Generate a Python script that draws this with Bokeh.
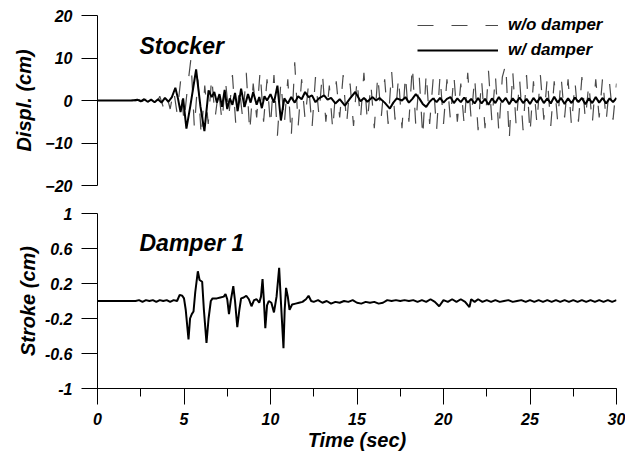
from bokeh.plotting import figure
from bokeh.layouts import column
from bokeh.models import (Range1d, FixedTicker, SingleIntervalTicker, Legend, LegendItem,
                          Label, CustomJSTickFormatter)
from bokeh.embed import file_html
from bokeh.resources import INLINE

# ---------------- data ----------------
# Stocker displacement without damper (cm), sampled every 0.2 s from 0 to 30 s
wo_step = 0.2
wo_disp = [0, 0, 0, 0, 0, 0, 0, 0, 0, 0, 0.1, -0.1, 0.2, -0.2, 0.3, -0.3, 0.4,
           -0.8, 1.0, -1.5, 1.2, -2.0, 2.5, -3.0, 4.5, -5.0, 3.0, 9.8, -6.5, 5.0,
           -8.6, 3.5, -5.5, 5.5, -4.0, 2.5, -5.0, 4.5, -3.5, 6.0, -6.0, 3.0, -4.5,
           6.5, -7.5, 4.0, -4.0, 7.0, -5.0, 5.0, -6.0, 6.0, -8.3, 4.5, -5.5, 5.0,
           -8.6, 9.0, -6.0, 5.0, -4.5, 4.0, -6.5, 5.5, -3.5, 6.5, -5.0, 3.5, -7.0,
           4.5, -4.0, 6.0, -5.5, 4.0, -6.0, 5.0, -4.5, 6.5, -5.0, 4.0, -6.5, 6.0,
           -4.0, 5.0, -5.5, 7.0, -4.5, 5.5, -6.5, 6.0, -5.0, 8.2, -6.0, 5.5, -8.6,
           6.5, -5.5, 5.0, -7.0, 6.0, -5.5, 5.0, -4.5, 6.0, -5.0, 4.0, -6.0, 6.5,
           -4.5, 5.5, -7.0, 5.0, -6.5, 7.0, -5.0, 6.0, -7.5, 5.5, 8.6, -9.4, 7.0,
           -6.0, 5.0, -7.0, 6.0, -7.8, 4.5, -5.5, 6.0, -4.5, 5.5, -6.0, 4.5, -5.0,
           5.5, -4.0, 5.0, -6.0, 4.5, -5.0, 5.5, -4.5, 4.0, -5.5, 5.0, -4.0, 5.5,
           -5.0, 4.0, -4.5, 4.0]
wo_time = [round(i * wo_step, 2) for i in range(len(wo_disp))]

# Stocker displacement with damper (cm)
w_time = [0, 2.0, 2.3, 2.5, 2.7, 2.9, 3.1, 3.3, 3.5, 3.7, 3.9, 4.1, 4.3, 4.5, 4.65,
          4.8, 4.95, 5.14, 5.37, 5.7, 5.95, 6.18, 6.42, 6.6, 6.75, 6.9, 7.05, 7.2,
          7.35, 7.5, 7.65, 7.8, 7.95, 8.1, 8.3, 8.5, 8.7, 8.85, 9.0, 9.2, 9.35, 9.5,
          9.65, 9.8, 10.0, 10.2, 10.4, 10.6, 10.8, 11.0, 11.2, 11.4, 11.6, 11.8,
          12.0, 12.2, 12.4, 12.6, 12.8, 13.1, 13.3, 13.5, 13.75, 14.0, 14.3, 14.6,
          14.9, 15.2, 15.4, 15.6, 15.9, 16.1, 16.3, 16.6, 16.9, 17.1, 17.3, 17.6,
          17.8, 18.0, 18.2, 18.4, 18.6, 18.8, 19.0, 19.2, 19.4, 19.6, 19.8, 20.0,
          20.2, 20.4, 20.6, 20.8, 21.0, 21.2, 21.4, 21.6, 21.8, 22.0, 22.2, 22.4,
          22.6, 22.8, 23.0, 23.2, 23.4, 23.6, 23.8, 24.0, 24.2, 24.4, 24.6, 24.8,
          25.0, 25.2, 25.4, 25.6, 25.8, 26.0, 26.2, 26.4, 26.6, 26.8, 27.0, 27.2,
          27.4, 27.6, 27.8, 28.0, 28.2, 28.4, 28.6, 28.8, 29.0, 29.2, 29.4, 29.6,
          29.8, 30.0]
w_disp = [0, 0, 0.2, -0.2, 0.3, -0.3, 0.2, -0.4, 0.3, -0.5, 0.6, -0.3, 0.8, 3.0, 0.5,
          -2.7, 0.5, -6.6, -1.2, 7.3, -1.4, -7.2, 2.4, 0.8, 2.0, -0.5, 1.5, -1.5,
          2.5, -2.0, 0.5, -1.0, 1.8, -2.5, 2.8, -1.5, 1.5, -0.5, 2.0, -1.0, 0.8, -1.8,
          1.0, 0.0, 1.5, -0.5, 3.5, -4.7, 0.5, -0.7, 0.8, -0.5, 1.0, 0.3,
          2.0, 0.8, 1.2, -0.4, 0.5, 1.2, 0.2, 0.6, -0.7, 0.3, -1.2, 0.5,
          2.0, -0.2, 0.6, -0.3, 0.8, 0.0, 0.6, -0.5, -1.9, -0.5, 0.5, 0.0,
          0.8, -0.5, 0.4, 1.5, 0.5, -0.8, -1.5, -0.3, 0.5, -0.4, 0.6, -0.5,
          0.4, 0.8, -0.6, 0.5, -0.4, 0.7, -0.5, 0.4, -0.7, 0.6, -0.7, 0.4,
          -1.0, 0.5, -0.6, 0.8, -0.4, 0.6, -0.9, 0.5, -0.5, 0.7, -0.6, 0.4,
          -0.8, 0.6, -0.5, 0.8, -0.6, 0.5, -0.7, 0.9, -0.5, 0.6, -0.8, 0.5,
          -0.6, 0.7, -0.4, 0.6, -0.9, 0.5, -0.6, 0.8, -0.5, 0.6, -0.7, 0.5,
          -0.4, 0.6]

# Damper 1 stroke (cm)
s_time = [0, 2.2, 2.4, 2.6, 2.8, 3.0, 3.2, 3.4, 3.6, 3.8, 4.0, 4.2, 4.4, 4.6, 4.75,
          4.9, 5.0, 5.1, 5.26, 5.35, 5.45, 5.55, 5.65, 5.8, 5.9, 6.05, 6.15, 6.3,
          6.42, 6.55, 6.65, 6.9, 7.1, 7.3, 7.4, 7.5, 7.6, 7.7, 7.85, 7.95, 8.08,
          8.2, 8.3, 8.45, 8.6, 8.75, 8.9, 9.05, 9.2, 9.35, 9.45, 9.54, 9.62, 9.7,
          9.8, 9.9, 10.05, 10.2, 10.35, 10.5, 10.6, 10.75, 10.82, 10.9, 11.0, 11.1,
          11.25, 11.45, 11.65, 11.85, 12.05, 12.2, 12.35, 12.5, 12.75, 13.0, 13.25,
          13.5, 13.75, 14.0, 14.25, 14.5, 14.75, 15.0, 15.25, 15.5, 15.75, 16.0,
          16.25, 16.5, 16.75, 17.0, 17.25, 17.5, 17.75, 18.0, 18.25, 18.5, 18.75,
          19.0, 19.25, 19.5, 19.75, 20.0, 20.25, 20.5, 20.75, 21.0, 21.25, 21.5,
          21.6, 21.8, 22.0, 22.25, 22.5, 22.75, 23.0, 23.25, 23.5, 23.75, 24.0,
          24.25, 24.5, 24.75, 25.0, 25.25, 25.5, 25.75, 26.0, 26.25, 26.5, 26.75,
          27.0, 27.25, 27.5, 27.75, 28.0, 28.25, 28.5, 28.75, 29.0, 29.25, 29.5,
          29.75, 30.0]
s_stroke = [0, 0, 0.01, -0.01, 0.01, 0, 0.01, -0.01, 0.01, 0, 0.01, -0.01, 0.01, 0.0,
            0.07, 0.06, 0.03, -0.1, -0.44, -0.2, -0.15, -0.12, 0.1, 0.34, 0.24, 0.22,
            -0.1, -0.48, -0.2, 0.0, 0.03, 0.03, 0.04, 0.05, 0.08, 0.02, -0.15, 0.0,
            0.17, 0.0, -0.3, -0.1, 0.03, 0.04, 0.06, 0.02, -0.06, 0.01, 0.02, -0.02,
            0.05, 0.25, 0.0, -0.31, -0.05, 0.0, -0.02, -0.13, 0.05, 0.38, 0.0, -0.54,
            -0.1, 0.15, 0.05, -0.1, -0.04, -0.03, -0.02, -0.01, 0.02, 0.06, 0.0,
            -0.01, 0.01, -0.02, 0.0, -0.03, -0.01, -0.02, 0.0, -0.01, 0.01, -0.02,
            -0.03, -0.01, -0.02, -0.01, -0.03, -0.02, 0.01, 0.0, 0.01, 0.0, 0.01,
            0.0, 0.01, -0.01, 0.01, -0.01, 0.02, -0.01, -0.06, 0.01, -0.01, 0.02,
            -0.01, 0.02, -0.01, -0.07, 0.02, -0.01, 0.02, -0.01, 0.01, -0.01, 0.01,
            -0.01, 0.0, 0.01, -0.01, 0.0, 0.01, -0.01, 0.01, -0.01, 0.01, -0.01,
            0.01, -0.01, 0.01, -0.01, 0.01, -0.01, 0.01, -0.01, 0.01, -0.01, 0.01,
            -0.01, 0.01, -0.01, 0.01, -0.01, 0.01, -0.01, 0.0]

disp_ticks = [-20, -10, 0, 10, 20]
stroke_ticks = [-1, -0.6, -0.2, 0.2, 0.6, 1]
FONT = "Liberation Sans"


def style_axis(ax):
    ax.axis_line_color = "black"
    ax.axis_line_width = 1
    ax.major_tick_line_color = "black"
    ax.minor_tick_line_color = "black"
    ax.major_tick_in = 0
    ax.minor_tick_in = 0
    ax.major_label_text_font = FONT
    ax.major_label_text_font_style = "bold italic"
    ax.major_label_text_font_size = "16px"
    ax.major_label_text_color = "black"
    ax.axis_label_text_font = FONT
    ax.axis_label_text_font_style = "bold italic"
    ax.axis_label_text_font_size = "20px"
    ax.axis_label_text_color = "black"


# ---------------- top panel ----------------
p1 = figure(frame_width=519, frame_height=170, output_backend="svg", toolbar_location=None,
            x_range=Range1d(0, 30), y_range=Range1d(-20, 20),
            min_border_left=97, min_border_right=9, min_border_top=15, min_border_bottom=13)
p1.outline_line_color = None
p1.grid.visible = False
p1.xaxis.visible = False
style_axis(p1.yaxis[0])
p1.yaxis.ticker = FixedTicker(ticks=disp_ticks)
p1.yaxis.major_tick_out = 16
p1.yaxis.major_label_standoff = 9
p1.yaxis.axis_label = "Displ. (cm)"
p1.yaxis.axis_label_standoff = 7

r_wo = p1.line(wo_time, wo_disp, line_color="#4a4a4a", line_width=1.2, line_dash="16 18")
r_w = p1.line(w_time, w_disp, line_color="black", line_width=2)

legend = Legend(items=[LegendItem(label="w/o damper", renderers=[r_wo]),
                       LegendItem(label="w/ damper", renderers=[r_w])],
                location="top_right", margin=0, padding=0, spacing=5,
                glyph_width=81, glyph_height=20, label_height=20, label_width=108,
                label_standoff=10, border_line_color=None, background_fill_alpha=0,
                label_text_font=FONT, label_text_font_style="bold italic",
                label_text_font_size="17px", label_text_color="black")
p1.add_layout(legend)

p1.add_layout(Label(x=42, y=140, x_units="screen", y_units="screen", text="Stocker",
                    text_font=FONT, text_font_style="bold italic", text_font_size="23px",
                    text_color="black", text_baseline="alphabetic"))

# ---------------- bottom panel ----------------
p2 = figure(frame_width=519, frame_height=175, output_backend="svg", toolbar_location=None,
            x_range=Range1d(0, 30), y_range=Range1d(-1, 1),
            min_border_left=97, min_border_right=9, min_border_top=15, min_border_bottom=73)
p2.outline_line_color = None
p2.grid.visible = False
style_axis(p2.yaxis[0])
style_axis(p2.xaxis[0])
p2.yaxis.ticker = FixedTicker(ticks=stroke_ticks)
p2.yaxis.formatter = CustomJSTickFormatter(code="return String(tick)")
p2.yaxis.major_tick_out = 16
p2.yaxis.major_label_standoff = 9
p2.yaxis.axis_label = "Stroke (cm)"
p2.yaxis.axis_label_standoff = 3
p2.xaxis.ticker = SingleIntervalTicker(interval=5, num_minor_ticks=2)
p2.xaxis.major_tick_out = 16
p2.xaxis.minor_tick_out = 8
p2.xaxis.major_label_standoff = 8
p2.xaxis.axis_label = "Time (sec)"
p2.xaxis.axis_label_standoff = 1

p2.line(s_time, s_stroke, line_color="black", line_width=2)

p2.add_layout(Label(x=42, y=146, x_units="screen", y_units="screen", text="Damper 1",
                    text_font=FONT, text_font_style="bold italic", text_font_size="23px",
                    text_color="black", text_baseline="alphabetic"))

layout = column(p1, p2, spacing=0)
open("out.html", "w").write(file_html(layout, INLINE))
